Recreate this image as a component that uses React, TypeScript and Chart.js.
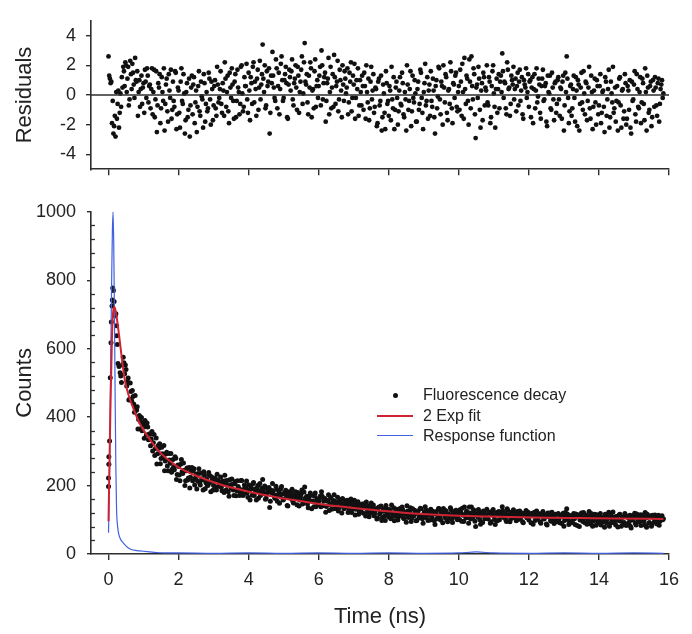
import React, { useEffect, useRef } from "react";
import { Chart, registerables } from "chart.js";

Chart.register(...registerables);

// ---------- data ----------
const timeTicks = [0, 2, 4, 6, 8, 10, 12, 14, 16];
const residualTicks = [-4, -2, 0, 2, 4];
const countTicks = [0, 200, 400, 600, 800, 1000];
const countMinorTicks = [40, 80, 120, 160, 240, 280, 320, 360, 440, 480, 520, 560, 640, 680, 720, 760, 840, 880, 920, 960];
const seriesNames = ["Fluorescence decay", "2 Exp fit", "Response function"];

const timeStep = 0.04; // ns between plotted channels of one series
const residualStartA = 0;
const residualStartB = 0.02;
const decayStartA = 0.4;
const decayStartB = 0.42;

// channels at 0.00, 0.04, 0.08 ...
const residualsA = [
  2.6, 1.1, 0.9, -0.4, -2.1, -2.8, -1.6, 0.3, -1.2, -0.8,
  0.5, 1.6, 2.2, 0.2, 1.9, -0.3, 1.4, 2.1, 0.7, 2.5,
  0.9, -1.4, 1.0, 0.4, -0.6, 0.8, 1.7, -0.2, 1.3, 0.6,
  -0.9, 1.8, 0.2, -1.5, 1.6, -0.7, 0.5, -1.9, 1.2, -0.4,
  -2.4, 0.7, -1.1, 1.4, -0.2, -1.6, 0.9, -0.8, 1.5, -1.3,
  0.3, -2.2, 1.8, -0.6, 0.1, -1.7, 0.8, -1.0, -2.8, 0.5,
  -1.3, 1.2, -0.5, -2.5, 0.6, -1.1, 0.9, -0.3, 1.4, -1.8,
  0.2, -0.9, 1.1, -2.0, 0.4, -0.7, 1.0, -1.4, 0.7, -0.2,
  1.6, -1.2, 0.3, 2.2, -0.8, 1.3, -1.9, 0.5, 1.8, -0.4,
  0.9, -1.5, 1.7, 0.2, -0.6, 2.0, -1.1, 1.2, 0.6, -0.3,
  1.5, -1.7, 0.8, 1.9, -0.5, 0.4, 1.1, -1.0, 2.3, 0.7,
  3.4, 0.2, -0.9, 1.6, 0.9, -2.6, 1.3, 2.9, 0.5, -0.4,
  1.8, 0.6, -1.3, 2.1, 1.0, -0.2, 1.4, 0.8, -1.6, 1.7,
  0.3, 2.4, -0.7, 1.1, 0.5, 1.9, -1.2, 0.9, 2.6, 0.1,
  3.5, 0.7, -0.5, 1.3, 2.2, -1.5, 0.4, 1.6, -0.8, 1.0,
  0.6, 1.9, 3.0, -0.3, 1.2, -1.8, 0.8, 2.5, 0.2, -0.9,
  1.4, 2.7, -0.6, 0.9, -1.1, 1.7, 0.3, 2.0, -0.4, 1.1,
  0.5, -1.3, 1.5, 2.2, -0.2, 0.7, -1.6, 1.0, 1.8, -0.7,
  0.2, 1.3, -1.0, 0.6, 2.0, -0.5, -1.7, 0.9, -0.3, 1.4,
  -0.8, 0.4, -1.9, 1.1, -0.4, -2.4, 0.7, -1.2, 1.6, -0.6,
  -1.4, 0.3, 1.9, -0.9, -2.3, 0.5, -0.2, -1.1, 1.2, -0.7,
  0.8, -1.5, -0.3, 2.0, -1.0, 0.4, -2.1, 1.3, -0.5, 0.1,
  -1.8, 0.9, -0.6, 1.5, -1.2, 0.2, 2.1, -0.4, -1.6, 0.7,
  1.6, -0.8, 0.3, -2.6, 1.0, -0.1, 1.8, -1.3, 0.6, 2.0,
  -0.5, 1.2, -1.7, 0.4, 2.2, -0.9, 0.8, -0.2, 1.5, -1.1,
  0.6, 1.7, -1.4, 0.2, 2.5, -0.6, 1.1, -2.0, 0.9, 2.6,
  -0.3, 1.4, -2.9, 0.7, 1.9, -1.0, 0.3, -1.7, 1.2, 0.5,
  2.0, -0.7, 0.9, -1.5, 1.6, 0.1, -2.2, 1.1, 0.4, -0.9,
  1.3, 2.8, -0.2, 0.8, -1.3, 1.7, 0.5, -0.6, 1.0, 1.9,
  0.4, -1.1, 1.5, 0.9, -0.4, 1.2, -1.6, 0.7, 1.8, 0.2,
  -0.8, 1.0, 0.5, -1.9, 1.4, 0.3, -0.5, 1.1, -1.2, 0.6,
  1.7, -0.3, 0.8, -2.1, 0.2, 1.3, -1.0, 0.5, -1.7, 0.9,
  -0.6, 1.2, -1.4, 0.4, 0.9, -2.4, 1.5, 2.6, -0.2, -1.1,
  0.7, -0.9, 1.3, -1.8, 0.3, 1.0, -2.4, 0.5, -0.5, 1.6,
  -1.3, 0.8, -0.4, 1.9, -1.6, 0.2, -0.8, 1.1, -2.0, 0.6,
  -0.7, 1.4, -1.2, 0.3, -2.5, 0.9, -0.3, 1.7, -1.5, 0.1,
  1.9, -0.9, -1.8, 0.6, -0.5, 1.2, -2.2, 0.4, -1.1, 0.8,
  -1.6, 0.3, 1.0, -2.6, -0.4, 0.7, -1.3, 1.4, -0.8, 0.2,
  -1.9, 1.1, -0.6, 1.8, -2.4, 0.5, -1.0, 0.9, -1.5, 0.3,
  1.2, -0.7, 0.8, -1.8, 0.4, 1.0, 0.1,
];

// channels at 0.02, 0.06, 0.10 ...
const residualsB = [
  1.3, 0.8, -1.9, -2.6, -1.4, 0.2, -0.6, -2.2, 0.1, 1.2,
  1.9, 0.6, 2.0, 1.1, -0.7, 2.3, 0.4, 1.5, -0.2, 1.0,
  1.6, 0.2, -0.8, 1.3, 0.5, -1.2, 0.9, 1.8, -0.5, 0.7,
  0.4, -1.3, 1.7, -0.3, -2.5, 0.8, 1.4, -0.9, 0.2, 1.8,
  -0.6, 1.1, -1.8, 0.3, 1.7, -1.0, -0.4, 1.6, -2.3, 0.5,
  -1.2, 0.9, -0.4, 1.4, -2.6, 0.2, -1.5, 1.1, -0.7, 1.3,
  0.7, -1.9, 0.3, -0.8, 1.6, -1.4, -0.1, -2.2, 0.8, -0.6,
  -1.1, 1.5, -0.3, 0.9, -1.7, 0.6, -0.9, 1.9, -0.5, 0.4,
  -0.6, 0.8, -1.4, 1.1, 0.2, -1.1, 1.5, -0.2, 0.7, -1.6,
  1.4, -0.4, 0.5, -1.3, 1.9, 0.1, -0.8, 0.6, 2.1, -1.2,
  0.3, 1.2, -0.6, 2.2, 0.9, -1.4, 1.7, 0.5, -0.3, 1.4,
  1.1, 2.0, -0.7, 0.6, 1.8, -1.2, 0.8, 1.3, -0.2, 2.4,
  -0.9, 1.5, 0.4, 2.6, -0.4, 1.0, 1.9, -1.5, 0.7, 1.2,
  1.6, -0.3, 0.8, 2.0, -1.0, 1.3, 0.2, 1.7, -0.6, 2.2,
  0.9, 1.4, -1.3, 0.5, 1.8, 0.3, -0.9, 2.4, 0.6, -0.2,
  1.3, -0.7, 2.0, 0.8, 1.5, -0.4, 1.1, -1.3, 1.9, 0.5,
  -0.8, 1.2, 0.6, 2.3, -0.3, 1.0, -1.5, 0.7, 1.6, 0.1,
  1.8, -0.5, 0.9, -1.1, 1.3, 2.1, -0.2, 0.4, -1.4, 1.0,
  -0.7, 0.6, 1.5, -1.6, 0.2, 1.1, -0.9, 1.9, 0.3, -1.2,
  0.5, -2.1, 0.9, -0.7, 1.3, -1.5, 0.1, -2.3, 0.8, -0.4,
  0.6, -1.7, -0.3, 1.2, -1.0, 0.9, -2.0, 0.3, -0.6, 1.5,
  -1.3, 0.2, -2.4, 0.7, -0.4, 1.6, -1.1, -0.2, 1.0, -1.8,
  0.4, -1.0, 1.7, -0.2, -2.3, 0.8, -0.7, 1.2, 0.3, -1.4,
  -0.4, 1.1, -1.5, 0.6, -0.9, 1.9, -0.3, 0.9, -2.0, 0.5,
  1.4, -1.2, 0.3, -0.6, 1.6, -1.9, 0.7, 1.3, -0.8, 0.2,
  -1.0, 0.9, 2.1, -1.6, 0.4, 1.3, -0.4, 2.4, -0.9, 0.6,
  1.8, -1.3, 0.5, -0.2, 1.1, -2.2, 0.8, 1.5, -0.7, 0.3,
  -0.5, 1.2, -1.9, 0.6, 2.0, -0.8, 0.4, -1.2, 1.4, 0.9,
  0.2, 1.6, 0.9, -0.9, 2.2, 0.4, -1.4, 1.3, 0.7, -0.3,
  1.1, 0.6, -0.7, 1.7, 0.3, -1.3, 1.0, 0.5, -0.2, 1.4,
  0.9, -1.5, 1.2, 0.4, -0.9, 1.8, -0.1, 0.7, -1.6, 1.1,
  -0.4, 0.6, -1.8, 1.3, 0.1, -0.9, 1.5, -0.3, 0.8, -1.2,
  1.0, -0.3, 0.5, -1.6, 1.3, -0.7, 0.2, 1.1, -1.9, 0.6,
  -1.4, 0.4, -0.2, 1.2, -2.1, 0.7, -0.6, 1.5, -1.0, 0.1,
  0.9, -1.7, 0.5, -0.9, 1.3, -2.3, 0.3, -0.5, 1.0, -1.3,
  0.6, -1.9, 0.2, -0.8, 1.2, -1.4, 0.4, -2.2, 0.9, -0.5,
  -1.2, 0.5, -0.4, -2.4, 1.1, -0.7, 0.3, -1.6, 1.4, -2.0,
  0.6, -1.0, -2.2, 0.9, -0.3, 1.6, -1.8, 0.4, -0.9, 1.2,
  -0.5, 0.8, -1.7, 0.2, 1.3, -1.2, 0.6, -2.1, 1.0, -0.8,
  0.5, -1.4, 1.1, -0.6, 0.7, -0.2,
];

const earlyDecayTimes = [0, 0, 0.01, 0.01, 0.03, 0.05, 0.07, 0.08, 0.1, 0.11, 0.12, 0.14, 0.16, 0.19, 0.21, 0.23, 0.23, 0.25, 0.27, 0.3, 0.33, 0.35, 0.37];
const earlyDecayCounts = [197, 222, 262, 284, 330, 515, 617, 678, 725, 742, 777, 770, 738, 696, 702, 667, 638, 612, 557, 548, 530, 520, 501];

// channels at 0.40, 0.44 ...
const decayCountsA = [
  552, 559, 552, 491, 514, 452, 475, 478, 438, 463,
  420, 365, 405, 386, 360, 379, 390, 348, 371, 351,
  316, 358, 325, 288, 339, 293, 309, 264, 312, 281,
  243, 292, 257, 294, 265, 239, 276, 246, 280, 232,
  256, 214, 276, 235, 245, 214, 251, 222, 193, 242,
  214, 249, 222, 190, 235, 208, 236, 216, 240, 191,
  220, 201, 230, 182, 217, 200, 222, 187, 216, 201,
  225, 185, 205, 230, 187, 215, 169, 202, 219, 187,
  205, 170, 214, 192, 180, 215, 171, 202, 192, 179,
  202, 158, 191, 205, 171, 183, 192, 163, 206, 183,
  218, 176, 160, 192, 182, 136, 186, 206, 174, 162,
  189, 173, 148, 191, 176, 160, 180, 171, 140, 182,
  163, 189, 149, 171, 163, 180, 140, 166, 187, 155,
  196, 161, 146, 167, 178, 132, 154, 169, 138, 160,
  154, 169, 182, 141, 159, 122, 154, 173, 145, 131,
  158, 173, 133, 151, 126, 159, 142, 162, 132, 150,
  142, 121, 152, 161, 132, 142, 114, 145, 153, 124,
  133, 146, 119, 137, 152, 123, 109, 138, 124, 143,
  118, 130, 105, 137, 121, 98, 132, 111, 142, 116,
  108, 126, 143, 112, 97, 126, 119, 109, 133, 112,
  129, 103, 116, 141, 107, 122, 95, 132, 112, 118,
  98, 126, 110, 132, 103, 117, 138, 111, 98, 122,
  131, 105, 117, 86, 124, 112, 132, 99, 119, 133,
  107, 125, 94, 116, 135, 102, 120, 110, 128, 100,
  118, 130, 96, 113, 137, 105, 123, 90, 120, 137,
  107, 125, 80, 117, 130, 100, 113, 92, 123, 115,
  131, 102, 119, 94, 126, 111, 86, 121, 114, 100,
  123, 138, 107, 117, 95, 127, 114, 102, 119, 129,
  112, 97, 124, 117, 104, 120, 91, 115, 127, 110,
  99, 117, 112, 87, 122, 110, 102, 118, 94, 113,
  124, 103, 115, 85, 109, 120, 96, 112, 89, 116,
  99, 118, 91, 110, 115, 81, 121, 132, 103, 94,
  112, 96, 118, 86, 108, 115, 80, 110, 100, 121,
  91, 113, 100, 124, 88, 107, 96, 116, 84, 111,
  97, 118, 92, 107, 78, 113, 101, 122, 89, 105,
  123, 94, 85, 110, 98, 116, 81, 108, 92, 112,
  87, 106, 113, 76, 99, 110, 90, 117, 95, 105,
  83, 114, 96, 121, 78, 108, 92, 112, 87, 106,
  114, 95, 110, 84, 106, 112, 103,
];

// channels at 0.42, 0.46 ...
const decayCountsB = [
  575, 527, 539, 503, 450, 500, 448, 460, 414, 428,
  430, 393, 365, 399, 377, 338, 372, 383, 334, 350,
  336, 301, 349, 308, 263, 317, 322, 279, 293, 317,
  272, 297, 243, 275, 294, 248, 255, 284, 218, 260,
  231, 262, 240, 266, 200, 243, 216, 253, 224, 253,
  243, 202, 233, 214, 249, 202, 220, 187, 231, 208,
  200, 238, 209, 226, 186, 217, 195, 233, 198, 210,
  195, 213, 180, 214, 201, 182, 217, 192, 204, 171,
  212, 185, 197, 171, 215, 188, 175, 193, 213, 166,
  186, 197, 172, 209, 190, 158, 200, 183, 171, 193,
  187, 199, 163, 179, 194, 154, 179, 185, 165, 198,
  154, 184, 169, 197, 158, 175, 186, 142, 169, 175,
  179, 154, 168, 182, 144, 172, 158, 175, 146, 181,
  164, 169, 135, 157, 172, 154, 138, 178, 155, 145,
  163, 138, 169, 155, 162, 139, 156, 127, 165, 148,
  132, 154, 147, 166, 135, 150, 120, 145, 156, 137,
  157, 129, 145, 121, 149, 157, 131, 137, 116, 143,
  123, 137, 147, 111, 131, 141, 118, 149, 130, 112,
  132, 102, 135, 117, 140, 107, 125, 98, 132, 119,
  130, 103, 119, 135, 110, 131, 99, 123, 113, 137,
  105, 121, 93, 126, 114, 135, 105, 115, 128, 97,
  120, 105, 134, 113, 90, 124, 107, 127, 117, 99,
  110, 125, 97, 119, 103, 133, 109, 122, 91, 117,
  127, 99, 115, 106, 129, 92, 119, 126, 104, 114,
  101, 121, 134, 95, 116, 125, 107, 137, 102, 118,
  129, 96, 115, 108, 122, 87, 118, 126, 103, 113,
  104, 122, 90, 116, 130, 101, 114, 97, 124, 119,
  111, 126, 118, 100, 132, 113, 94, 122, 116, 106,
  119, 114, 101, 126, 111, 94, 118, 113, 106, 122,
  116, 91, 119, 111, 98, 126, 106, 114, 90, 118,
  102, 113, 88, 120, 108, 97, 122, 103, 115, 94,
  116, 102, 111, 89, 119, 98, 108, 117, 86, 112,
  91, 109, 103, 117, 83, 112, 99, 120, 95, 106,
  114, 87, 110, 95, 118, 81, 108, 99, 115, 91,
  110, 85, 106, 96, 116, 90, 108, 81, 113, 99,
  91, 109, 99, 79, 115, 96, 107, 87, 118, 83,
  109, 93, 81, 112, 100, 119, 85, 107, 94, 115,
  97, 111, 85, 105, 116, 90, 109, 81, 113, 94,
  107, 88, 113, 96, 109, 100,
];

const fitTimes = [0, 0.05, 0.1, 0.14, 0.17, 0.2, 0.25, 0.3, 0.35, 0.4, 0.46, 0.5, 0.6, 0.7, 0.8, 0.9, 1.0, 1.2, 1.4, 1.6, 1.8, 2.0, 2.4, 2.8, 3.2, 3.6, 4.0, 4.8, 5.6, 6.5, 7.5, 8.5, 9.5, 10.5, 11.5, 12.5, 13.5, 14.5, 15.84];
const fitCounts = [96, 400, 640, 715, 722, 712, 680, 640, 598, 555, 512, 492, 455, 428, 402, 380, 362, 332, 305, 284, 268, 253, 233, 217, 203, 192, 182, 166, 153, 140, 129, 120, 114, 110, 108, 106, 105, 104, 102];

const responseTimes = [0, 0.03, 0.06, 0.09, 0.11, 0.13, 0.15, 0.17, 0.19, 0.21, 0.23, 0.26, 0.3, 0.35, 0.45, 0.55, 0.65, 0.8, 0.9, 1.1, 1.3, 1.6, 2, 3, 4, 5, 6, 7, 8, 9, 10, 10.5, 11, 12, 13, 14, 15, 15.84];
const responseCounts = [62, 250, 550, 800, 940, 1000, 900, 700, 450, 250, 130, 80, 55, 42, 29, 19, 13, 10, 9, 7, 5, 3, 3, 2, 3, 2, 3, 2, 3, 2, 3, 6, 3, 2, 3, 2, 3, 2];

// ---------- style ----------
const FONT = "'Liberation Sans', Arial, Helvetica, sans-serif";
const AXIS = "#2e2e2e";
const TEXT = "#222";
const RED = "#cf2331";
const BLUE = "#4060e0";
const DOT = "#111";

const W = 692;
const TOP_H = 190;
const BOT_TOP = 190;
const BOT_H = 444;
const AXIS_LEFT = 91;
const PAD_RIGHT = 23;

const pairs = (xs: number[], ys: number[]) => xs.map((x, i) => ({ x, y: ys[i] }));
const channelPoints = (start: number, ys: number[]) => ys.map((y, i) => ({ x: start + i * timeStep, y }));

const minorTickPlugin = {
  id: "minorTicks",
  afterDraw(chart: any) {
    const y = chart.scales.y;
    const ctx = chart.ctx;
    const x0 = chart.chartArea.left;
    ctx.save();
    ctx.strokeStyle = AXIS;
    ctx.lineWidth = 1.3;
    for (const v of countMinorTicks) {
      const py = Math.round(y.getPixelForValue(v)) + 0.5;
      ctx.beginPath();
      ctx.moveTo(x0, py);
      ctx.lineTo(x0 + 4, py);
      ctx.stroke();
    }
    ctx.restore();
  },
};

function xScale(height: number, showLabels: boolean, withTitle: boolean) {
  return {
    type: "linear",
    min: -0.5,
    max: 16,
    afterBuildTicks: (s: any) => {
      s.ticks = timeTicks.map((v) => ({ value: v }));
    },
    afterFit: (s: any) => {
      s.height = height;
    },
    grid: { display: true, drawOnChartArea: false, drawTicks: true, tickLength: 6, color: AXIS, lineWidth: 1.4 },
    border: { display: true, color: AXIS, width: 1.6 },
    ticks: {
      display: showLabels,
      padding: 9,
      color: TEXT,
      font: { family: FONT, size: 18 },
      maxRotation: 0,
      autoSkip: false,
      callback: (v: any) => String(v),
    },
    title: {
      display: withTitle,
      text: "Time (ns)",
      color: TEXT,
      font: { family: FONT, size: 22 },
      padding: { top: 0, bottom: 4 },
    },
  };
}

function TopChart() {
  const ref = useRef<HTMLCanvasElement>(null);
  useEffect(() => {
    if (!ref.current) return;
    const chart = new Chart(ref.current, {
      type: "scatter",
      data: {
        datasets: [
          {
            type: "line",
            label: "zero",
            data: [
              { x: -0.5, y: 0 },
              { x: 16, y: 0 },
            ],
            borderColor: AXIS,
            borderWidth: 1.5,
            pointRadius: 0,
            order: 0,
          } as any,
          {
            label: "Residuals",
            data: [...channelPoints(residualStartA, residualsA), ...channelPoints(residualStartB, residualsB)],
            pointRadius: 2.4,
            backgroundColor: DOT,
            borderWidth: 0,
            order: 1,
          },
        ],
      },
      options: {
        animation: false,
        responsive: false,
        events: [],
        layout: { padding: { top: 5, right: PAD_RIGHT, left: 0, bottom: 0 } },
        plugins: { legend: { display: false }, tooltip: { enabled: false } },
        scales: {
          x: xScale(11, false, false) as any,
          y: {
            type: "linear",
            min: -5,
            max: 5,
            afterBuildTicks: (s: any) => {
              s.ticks = residualTicks.map((v) => ({ value: v }));
            },
            afterFit: (s: any) => {
              s.width = AXIS_LEFT;
            },
            grid: { display: true, drawOnChartArea: false, drawTicks: true, tickLength: 5, color: AXIS, lineWidth: 1.4 },
            border: { display: true, color: AXIS, width: 1.6 },
            ticks: { padding: 10, color: TEXT, font: { family: FONT, size: 18 }, callback: (v: any) => String(v) },
            title: {
              display: true,
              text: "Residuals",
              color: TEXT,
              font: { family: FONT, size: 22 },
              padding: { top: 12, bottom: 0 },
            },
          },
        },
      },
    });
    return () => chart.destroy();
  }, []);
  return (
    <canvas
      ref={ref}
      width={W}
      height={TOP_H}
      style={{ position: "absolute", left: 0, top: 0, width: W, height: TOP_H, display: "block" }}
    />
  );
}

function BottomChart() {
  const ref = useRef<HTMLCanvasElement>(null);
  useEffect(() => {
    if (!ref.current) return;
    const decayPoints = [
      ...pairs(earlyDecayTimes, earlyDecayCounts),
      ...channelPoints(decayStartA, decayCountsA),
      ...channelPoints(decayStartB, decayCountsB),
    ];
    const chart = new Chart(ref.current, {
      type: "scatter",
      data: {
        datasets: [
          {
            type: "line",
            label: seriesNames[1],
            data: pairs(fitTimes, fitCounts),
            borderColor: RED,
            borderWidth: 2,
            pointRadius: 0,
            cubicInterpolationMode: "monotone",
            order: 0,
          } as any,
          {
            type: "line",
            label: seriesNames[2],
            data: pairs(responseTimes, responseCounts),
            borderColor: BLUE,
            borderWidth: 1.2,
            pointRadius: 0,
            cubicInterpolationMode: "monotone",
            order: 1,
          } as any,
          {
            label: seriesNames[0],
            data: decayPoints,
            pointRadius: 2.5,
            backgroundColor: DOT,
            borderWidth: 0,
            order: 2,
          },
        ],
      },
      options: {
        animation: false,
        responsive: false,
        events: [],
        layout: { padding: { top: 19, right: PAD_RIGHT, left: 0, bottom: 0 } },
        plugins: { legend: { display: false }, tooltip: { enabled: false } },
        scales: {
          x: xScale(80, true, true) as any,
          y: {
            type: "linear",
            min: 0,
            max: 1000,
            afterBuildTicks: (s: any) => {
              s.ticks = countTicks.map((v) => ({ value: v }));
            },
            afterFit: (s: any) => {
              s.width = AXIS_LEFT;
            },
            grid: { display: true, drawOnChartArea: false, drawTicks: true, tickLength: 4, color: AXIS, lineWidth: 1.4 },
            border: { display: true, color: AXIS, width: 1.6 },
            ticks: { padding: 11, color: TEXT, font: { family: FONT, size: 18 }, callback: (v: any) => String(v) },
            title: {
              display: true,
              text: "Counts",
              color: TEXT,
              font: { family: FONT, size: 22 },
              padding: { top: 12, bottom: 0 },
            },
          },
        },
      },
      plugins: [minorTickPlugin],
    });
    return () => chart.destroy();
  }, []);
  return (
    <canvas
      ref={ref}
      width={W}
      height={BOT_H}
      style={{ position: "absolute", left: 0, top: BOT_TOP, width: W, height: BOT_H, display: "block" }}
    />
  );
}

function Legend() {
  const rowTop = [395, 415.5, 435.5];
  const textStyle: React.CSSProperties = {
    position: "absolute",
    left: 423,
    height: 20,
    lineHeight: "20px",
    fontFamily: FONT,
    fontSize: 16,
    color: TEXT,
    whiteSpace: "nowrap",
  };
  return (
    <>
      <div
        style={{
          position: "absolute",
          left: 395 - 2.5,
          top: rowTop[0] - 2.5,
          width: 5,
          height: 5,
          borderRadius: "50%",
          background: DOT,
        }}
      />
      <div style={{ position: "absolute", left: 377, top: rowTop[1] - 1, width: 36, height: 2, background: RED }} />
      <div style={{ position: "absolute", left: 377, top: rowTop[2] - 0.75, width: 36, height: 1.5, background: BLUE }} />
      {seriesNames.map((n, i) => (
        <div key={n} style={{ ...textStyle, top: rowTop[i] - 10 }}>
          {n}
        </div>
      ))}
    </>
  );
}

export default function App() {
  return (
    <div style={{ position: "absolute", left: 0, top: 0, width: W, height: 634, background: "#fff", overflow: "hidden" }}>
      <TopChart />
      <BottomChart />
      <Legend />
    </div>
  );
}
